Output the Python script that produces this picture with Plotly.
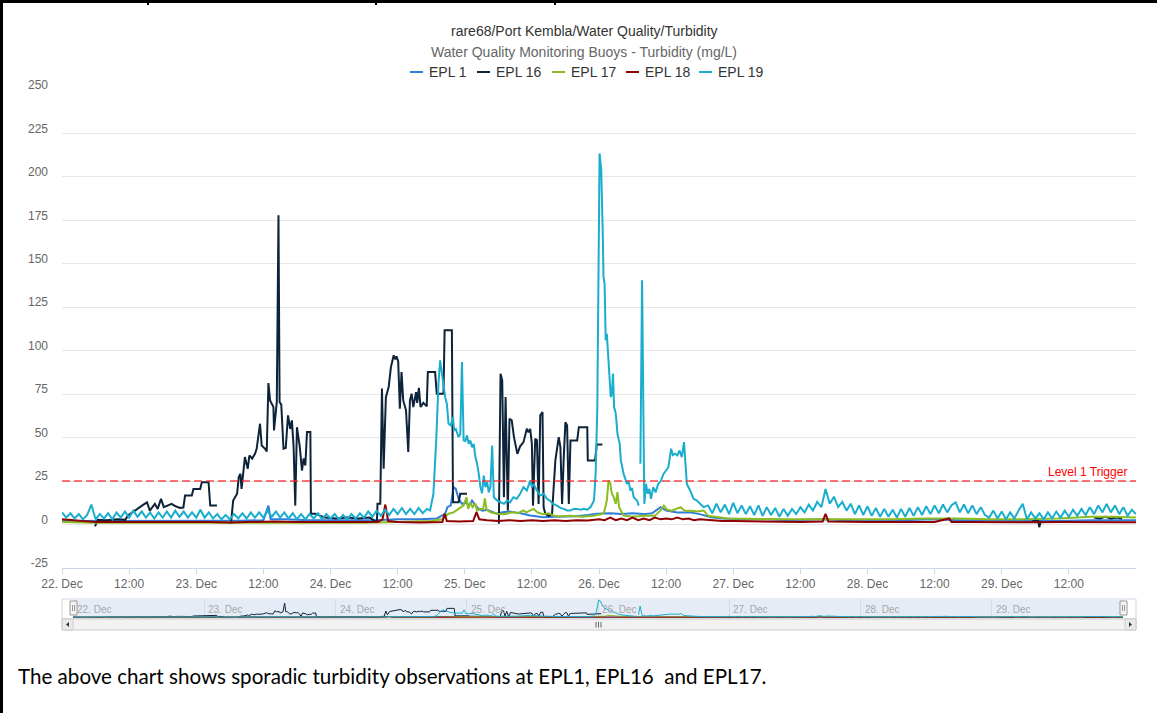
import plotly.graph_objects as go
import pandas as pd

# ---------------------------------------------------------------- data
START = pd.Timestamp("2016-12-22 00:00")
END = START + pd.Timedelta(days=8)

series_names = ["EPL 1", "EPL 16", "EPL 17", "EPL 18", "EPL 19"]
series_colors = ["#2f7ed8", "#0d233a", "#8bbc21", "#910000", "#1aadce"]
trigger_level = 25
trigger_label = "Level 1 Trigger"

# hours after 22 Dec 00:00 and turbidity (mg/L); None = no data (line break)
epl1_hours = [0, 4, 8, 12, 16, 20, 24, 28, 32, 36, 36.9, 37.3, 40, 44, 48, 52, 56, 60, 64, 67,
              68.5, 68.9, 69.5, 70.0, 70.4, 70.9, 71.5, 72.2, 72.8, 73.3, 73.9, 74.5, 75.2, 76.0,
              76.8, 77.7, 78.8, 80, 81, 82, 83.7, 86, 88, 90, 92, 94, 95.6, 98, 100, 102, 104,
              105.5, 107, 108, 110, 112.3, 114, 116, 118, 122, 126, 130, 136, 140, 144, 150, 156,
              160, 166, 172, 178, 184, 192]
epl1_vals = [2, 2, 1.8, 2, 2.2, 2, 2, 2, 2.2, 2.5, 10.9, 3, 3, 2.5, 2.5, 2.5, 2.5, 3, 3, 3.5,
             6.2, 10, 11, 21.5, 20.5, 14.8, 11.9, 12.5, 11, 13.8, 11, 9, 8, 8.5,
             7.5, 6.2, 7.1, 7.5, 7, 6.5, 5.2, 4.2, 4.5, 4.5, 4.8, 5.5, 6.2, 6.5, 6, 6.5, 6,
             6.5, 10, 8, 7, 7, 6, 4.2, 3.5, 3, 3, 2.5, 3, 2.5, 2.5, 2.5, 3,
             2.5, 2.5, 2, 2, 2.5, 2.5]

epl16_hours = [5.9, 6.4, 8, 10, 11.3, 11.8, 12.6, 13.4, 14.3, 15.2, 15.7, 16.6, 17.1, 17.7, 18.2,
               19.6, 20.3, 21.1, 21.7, 22.0, 23.2, 23.5, 24.7, 25.0, 26.2, 26.5, 27.7,
               29.0,
               30.2, 30.6, 31.3, 31.6, 31.9, 32.1, 32.7, 33.2, 33.5, 34.0, 34.5, 34.8, 35.4, 35.7,
               36.3, 36.6, 36.9, 37.2, 37.8, 37.9, 38.4, 38.7, 38.9, 39.2, 39.6, 40.0, 40.4, 40.8,
               41.1, 41.4, 41.7, 42.0, 42.5, 42.9, 43.2, 43.5, 43.8, 44.4, 44.5, 45.3, 47, 49, 51,
               53, 55, 56.3, 56.4, 56.9, 57.2, 57.5, 57.9, 58.4, 58.8, 59.3, 59.6, 59.8, 60.1, 60.4,
               60.7, 61.0, 61.5, 61.9, 62.2, 62.5, 62.8, 63.3, 63.5, 63.8, 64.1, 64.6, 65.2, 65.4,
               66.7, 67.0, 68.2, 68.4, 69.7, 69.9, 70.9, 71.2, 72.4,
               75.0,
               78.1, 78.4, 78.7, 79.0, 79.3, 79.7, 80.0, 80.4, 80.8, 81.4, 81.9, 82.5, 83.1, 83.4,
               83.7, 84.0, 84.2, 84.6, 84.9, 85.2, 85.5, 85.9, 86.1, 86.4, 87.0, 87.6, 88.2, 88.5,
               88.8, 89.1, 89.4, 89.7, 90.0, 90.3, 90.6, 90.9, 92.1, 92.4, 93.9, 94.0, 95.3, 95.6,
               96.6,
               130.0,
               173.5, 174.5, 174.7, 175.0,
               180.0,
               184.5, 185.5, 186.5, 187.5, 188.5, 189.5]
epl16_vals = [-1, 2.7, 2.5, 3, 2.7, 5.2, 7, 9, 10.9, 12.8, 8, 11.9, 9, 14.8, 10,
              11.9, 10.5, 9.6, 9.8, 16.7, 16.7, 20.5, 20.5, 24.4, 24.4, 10.9, 10.9,
              None,
              0.4, 13.8, 17.7, 27.3, 29.2, 20.5, 38.8, 32.1, 39.7, 38, 40.7, 43.6, 58, 45.5,
              43.6, 42, 81.4, 71.4, 67.6, 54.1, 70.5, 178, 70.5, 69, 43.6, 44, 62.8, 55,
              59.9, 45, 10.9, 56, 45, 31.1, 38, 34, 53.2, 53.2, 6.2, 6.2, 4, 3.5, 4,
              3.5, 4, 1.3, 11.9, 11.9, 78.2, 32.1, 73.3, 79.1, 90.6, 97.4, 95, 96.8, 94, 66.6,
              87.7, 71.4, 65.7, 41.7, 71.4, 75.3, 67.6, 76.2, 70, 78.7, 67.6, 70, 68, 87.7,
              87.7, 75.3, 75.3, 111.8, 111.8, 12.8, 12.8, 17.7, 17.7,
              None,
              0.4, 86.8, 83, 15.7, 73.3, 8.1, 60.8, 60, 50.3, 40.7, 45, 47.4, 55.1, 53,
              55, 46.4, 10.9, 49.4, 48.5, 11.9, 62.8, 64.7, 10, 6.2, 5, 6, 36.9, 44.5,
              50.3, 44.5, 11.9, 38.8, 58.9, 57, 11.9, 48.4, 48.4, 56, 56, 36.9, 36.9, 46.1,
              46.1,
              None,
              2, 2.5, -1.5, 2,
              None,
              4, 3.5, 4.5, 3.5, 4, 3.5]

epl17_hours = [0, 6, 12, 18, 24, 30, 36, 42, 48, 54, 60, 66, 68, 69.1, 70.0, 71.2, 71.8, 72.3,
               72.6, 73.0, 73.4, 73.9, 74.2, 74.8, 75.3, 75.6, 75.9, 76.6, 77.8, 79, 80.5, 81.5,
               82.5, 83, 84.3, 85, 86, 87, 88, 89, 91, 93, 95, 96.5, 96.9, 97.4, 97.7, 98.0, 98.3,
               98.6, 99.0, 99.3, 99.6, 99.9, 100.4, 102, 104, 106, 107, 107.6, 108.2, 109, 110.6,
               111.3, 112.5, 113.5, 114.7, 115.5, 117.1, 119, 122, 126, 130, 134, 138, 142, 148,
               154, 160, 166, 172, 178, 184, 188, 192]
epl17_vals = [1.5, 1, 1, 1.2, 1, 1, 1.2, 1, 1, 1, 1.5, 2, 3, 6.2, 7, 10, 11, 15.7,
              9, 12.8, 10, 12, 8, 9, 9, 15, 8.5, 7.1, 6.2, 6, 7, 6.5,
              8.1, 7, 9, 7, 6, 6.5, 5, 4.6, 5, 4.5, 5, 6, 7, 13.8, 25.3, 24, 17.7,
              16, 11.9, 18.6, 10, 8.1, 5.2, 4.5, 5, 5, 8.1, 10.9, 8.5, 8, 10,
              8, 8, 7.5, 8.1, 5, 4.2, 3.5, 3.3, 3, 3, 3, 3, 3, 3,
              3.5, 3.5, 3, 3, 3.5, 4.5, 4.5, 4]

epl18_hours = [0, 2, 4, 6, 10, 14, 18, 22, 26, 30, 34, 38, 42, 46, 50, 54, 56.5, 57.3, 57.8, 58.3,
               60, 64, 68, 68.4, 68.8, 71, 73.5, 74.1, 74.6, 76, 78, 80, 82, 84, 86, 88, 90, 92,
               94, 96, 97, 98, 99, 100, 101, 102, 103, 104, 105, 106, 107, 108, 109, 110, 111,
               112, 113, 114, 116, 118, 120, 124, 128, 132, 136, 136.5, 137, 140, 144, 148, 152,
               156, 158.6, 159, 162, 166, 170, 174, 178, 182, 186, 190, 192]
epl18_vals = [3, 2.5, 2, 1.5, 1.5, 1.5, 1.8, 1.5, 1.5, 1.2, 1.5, 1.8, 1.5, 1.5, 1.2, 1.5, 1.5, 3, 11.5, 2,
              1.5, 1.2, 1.5, 6.2, 2, 1.8, 2, 7.1, 3, 2.5, 2, 2.5, 2, 2.5, 2, 2.5, 2, 2.5,
              2.3, 3, 2.5, 4, 2.5, 3.5, 2.5, 4, 2.5, 3.5, 2.5, 4, 3, 3.5, 3, 4, 3,
              3.5, 2.5, 3, 2.3, 2, 2, 1.8, 1.8, 1.5, 1.8, 6.2, 1.8, 1.5, 1.5, 1.5, 1.5,
              1.5, 3.5, 1.5, 1.5, 1.3, 1.5, 1.3, 1.5, 1.3, 1.5, 1.3, 1.3]

# EPL 19: 45-minute readings in quiet periods, irregular readings around the events
epl19_step = 0.75
epl19_quiet1_start = 0.0
epl19_quiet1 = [7, 4, 6.5, 3.5, 6, 3, 5.5, 11.5, 3, 6, 3.5, 6.5, 3, 7, 4, 7.5, 4, 8, 4.5, 7.5,
                4, 7, 3.5, 7, 4, 7.5, 4, 8, 4.5, 7.5, 4, 7, 4, 8.5, 4, 7, 3.5, 6, 3, 5.5,
                3, 6, 3.5, 6.5, 3.5, 7, 4, 7, 4, 8, 4.5, 7.5, 4, 7, 3.5, 6.5, 3, 6, 3, 6,
                3.5, 6.5, 3, 6, 3.5, 6, 3, 5.5, 3, 6, 3.5, 6.5, 4, 7.5, 4.5, 8, 5, 8.5, 5.5, 9,
                6, 9.5, 6, 9, 6, 9.5, 6.5, 9]
epl19_event1_hours = [65.8, 66.4, 66.9, 67.3, 67.6, 67.9, 68.2, 68.5, 68.8, 69.1, 69.5, 69.9, 70.1,
                      70.4, 70.9, 71.2, 71.5, 71.8, 72.1, 72.4, 72.7, 73.0, 73.3, 73.6, 73.9, 74.2,
                      74.5, 74.8, 75.1, 75.4, 75.7, 76.0, 76.3, 76.6, 76.9, 77.2, 77.8, 78.4, 79.0,
                      79.6, 80.1, 80.7, 81.3, 81.9, 82.5, 83.1, 83.7, 84.0, 84.3, 84.9, 85.5, 86.1,
                      86.7, 87.2, 87.8, 88.5, 89.1, 89.7, 90.3, 90.9, 91.5, 92.1, 92.7, 93.3, 93.9,
                      94.5, 95.1, 95.4, 95.7, 96.1, 96.4, 96.7, 96.8, 97.0, 97.2, 97.4, 97.6, 97.9,
                      98.1, 98.3, 98.5, 98.7, 99.0, 99.3, 99.7, 99.9, 100.4, 101.0, 101.3, 101.6,
                      101.9, 102.2, 102.8, 103.1]
epl19_event1_vals = [8.1, 17.7, 48.4, 81, 94.5, 87.7, 80, 73.3, 69.5, 58, 57, 61.8, 54.1,
                     55, 50.3, 52, 93.5, 48.4, 48, 51.3, 46.4, 48.4, 44.5, 46.4, 38.8, 35,
                     29.2, 21.5, 18, 28.2, 21.5, 24.4, 18.5, 22, 45.5, 15.7, 13.8, 12.8, 11.9,
                     13.8, 12.8, 15.7, 14.8, 17.7, 21.5, 19.6, 25.3, 21.5, 23.4, 19.6, 16.7, 17.7,
                     14.8, 13.8, 11.9, 10.9, 9.6, 9, 8.1, 8.1, 9, 9, 8.5, 9, 8.5,
                     10, 13.8, 29.2, 67.6, 213.5, 203.9, 163.6, 142.5, 138.6, 106, 109.8, 100.2, 86.8,
                     73.3, 75, 86.8, 67.6, 63.8, 52.2, 46.4, 36.9, 29.2, 23.4, 25, 19.6,
                     21, 15.7, 13.8, 10.9]
epl19_event2_hours = [103.4, 103.7, 104.1, 104.4, 104.7, 105.0, 105.3, 105.7, 106.1, 106.6, 107.1,
                      107.5, 108.0, 108.4, 108.9, 109.2, 109.6, 110.0, 110.4, 110.8, 111.2, 111.7,
                      112.3, 112.9, 113.5, 114.1, 114.7]
epl19_event2_vals = [35, 140.6, 11.9, 23.4, 17.7, 20.5, 14.8, 21.5, 18.5, 23.4, 25.3,
                     29, 31.1, 33, 43.6, 40, 40.7, 39.7, 42.6, 38.8, 47.4, 23.4,
                     19.6, 14.8, 13.8, 11.9, 10]
epl19_quiet2_start = 115.5
epl19_quiet2 = [11, 6.5, 12, 7, 11.5, 6, 12.5, 6.5, 11, 6, 10.5, 5.5, 11, 5, 10, 5.5, 9.5, 4.5, 9, 5,
                9, 6, 10, 7, 11.5, 8, 13, 10, 20.5, 12, 16, 10, 13,
                8, 12, 6, 11, 5.5, 10.5, 5, 9.5, 4.5, 9, 4.5, 8.5, 4, 9, 4.5, 9.5, 5, 10,
                5.5, 10.5, 6, 11, 6.5, 11.5, 7, 11, 12.8, 7, 11.5, 6.5, 11, 6, 10, 5.5,
                4, 8, 3.5, 7.5, 3, 7, 3.5, 8, 11.9, 3, 7, 3.5, 6.5, 3, 7, 3.5,
                7.5, 4, 8, 4.5, 8.5, 5, 9, 5.5, 10, 6, 11, 7, 11.9, 7, 11, 6, 10, 5, 8.5, 6]

epl19_hours = ([epl19_quiet1_start + i * epl19_step for i in range(len(epl19_quiet1))]
               + epl19_event1_hours + [103.25] + epl19_event2_hours
               + [epl19_quiet2_start + i * epl19_step for i in range(len(epl19_quiet2))])
epl19_vals = epl19_quiet1 + epl19_event1_vals + [None] + epl19_event2_vals + epl19_quiet2

series_hours = [epl1_hours, epl16_hours, epl17_hours, epl18_hours, epl19_hours]
series_vals = [epl1_vals, epl16_vals, epl17_vals, epl18_vals, epl19_vals]
for hh, vv in zip(series_hours, series_vals):
    assert len(hh) == len(vv), (len(hh), len(vv))

x_tick_vals = [START + pd.Timedelta(hours=12 * k) for k in range(16)]
x_tick_text = [f"{22 + k // 2}. Dec" if k % 2 == 0 else "12:00" for k in range(16)]
nav_days = [START + pd.Timedelta(days=d) for d in range(8)]
nav_day_text = [f"{22 + d}. Dec" for d in range(8)]
y_ticks = list(range(-25, 251, 25))
y_tick_text = [str(v) for v in y_ticks]

title_text = "rare68/Port Kembla/Water Quality/Turbidity"
subtitle_text = "Water Quality Monitoring Buoys - Turbidity (mg/L)"
caption_text = "The above chart shows sporadic turbidity observations at EPL1, EPL16\u00a0 and EPL17."

# ---------------------------------------------------------------- layout helpers
W, H = 1157, 713
ML, MR, MT, MB = 62, 21, 90, 83
PW, PH = W - ML - MR, H - MT - MB


def fx(px):
    return (px - ML) / PW


def fy(py):
    return (H - MB - py) / PH


def to_time(hours):
    return [START + pd.Timedelta(hours=h) for h in hours]


FONT = "Liberation Sans, Arial, Helvetica, sans-serif"

fig = go.Figure()
for name, col, hh, vv in zip(series_names, series_colors, series_hours, series_vals):
    fig.add_trace(go.Scatter(x=to_time(hh), y=vv, mode="lines", name=name, connectgaps=False,
                             line=dict(color=col, width=2), xaxis="x", yaxis="y",
                             showlegend=False, hoverinfo="skip"))
for name, col, hh, vv in zip(series_names, series_colors, series_hours, series_vals):
    fig.add_trace(go.Scatter(x=to_time(hh), y=vv, mode="lines", name=name + " (navigator)",
                             connectgaps=False, line=dict(color=col, width=1),
                             xaxis="x2", yaxis="y2", showlegend=False, hoverinfo="skip"))

shapes = []
annotations = []


def rect(x0, y0, x1, y1, **kw):
    d = dict(type="rect", xref="paper", yref="paper", x0=fx(x0), x1=fx(x1), y0=fy(y1), y1=fy(y0))
    d.update(kw)
    return d


# document table borders
shapes.append(rect(0, 0, 1157, 3, fillcolor="black", line=dict(width=0)))
for sx in [147, 375, 554]:
    shapes.append(rect(sx, 0, sx + 2, 5, fillcolor="black", line=dict(width=0)))
shapes.append(rect(0, 0, 3, 713, fillcolor="black", line=dict(width=0)))

# trigger line
shapes.append(dict(type="line", xref="paper", yref="y", x0=0, x1=1, y0=trigger_level, y1=trigger_level,
                   line=dict(color="rgba(255,40,40,0.85)", width=1.5, dash="8px,4px")))
annotations.append(dict(text=trigger_label, xref="paper", yref="y", x=fx(1129), y=trigger_level,
                        xanchor="right", yanchor="bottom", yshift=0, showarrow=False,
                        font=dict(family=FONT, size=12, color="#ff0000")))

# navigator
shapes.append(rect(62, 599, 1136, 619, fillcolor="white", line=dict(color="#cfd6e1", width=1), layer="below"))
shapes.append(rect(73, 599, 1123, 619, fillcolor="#e6ecf6", line=dict(width=0), layer="below"))
for hx in [70, 1120]:
    shapes.append(rect(hx, 601, hx + 7, 615, fillcolor="#f2f2f2", line=dict(color="#999999", width=1)))
    for gx in [hx + 2.5, hx + 4.5]:
        shapes.append(dict(type="line", xref="paper", yref="paper", x0=fx(gx), x1=fx(gx),
                           y0=fy(605), y1=fy(611), line=dict(color="#999999", width=1)))
# scrollbar
shapes.append(rect(62, 619, 1136, 630, fillcolor="#f2f2f2", line=dict(color="#cccccc", width=1)))
shapes.append(rect(62, 619, 73, 630, fillcolor="#e9e9e9", line=dict(color="#cccccc", width=1)))
shapes.append(rect(1125, 619, 1136, 630, fillcolor="#e9e9e9", line=dict(color="#cccccc", width=1)))
shapes.append(dict(type="path", xref="paper", yref="paper",
                   path=f"M{fx(69)},{fy(622)} L{fx(66)},{fy(624.5)} L{fx(69)},{fy(627)} Z",
                   fillcolor="#333333", line=dict(width=0)))
shapes.append(dict(type="path", xref="paper", yref="paper",
                   path=f"M{fx(1129)},{fy(622)} L{fx(1132)},{fy(624.5)} L{fx(1129)},{fy(627)} Z",
                   fillcolor="#333333", line=dict(width=0)))
for gx in [596, 598.5, 601]:
    shapes.append(dict(type="line", xref="paper", yref="paper", x0=fx(gx), x1=fx(gx),
                       y0=fy(622), y1=fy(627.5), line=dict(color="#666666", width=1)))
for d, txt in zip(nav_days, nav_day_text):
    annotations.append(dict(text=txt, xref="x2", yref="paper", x=d, y=fy(609.5), xanchor="left",
                            yanchor="middle", xshift=2, showarrow=False,
                            font=dict(family=FONT, size=10, color="#a8a8a8")))

# titles
annotations.append(dict(text=title_text, xref="paper", yref="paper", x=fx(584), y=fy(30.5),
                        xanchor="center", yanchor="middle", showarrow=False,
                        font=dict(family=FONT, size=14, color="#333333")))
annotations.append(dict(text=subtitle_text, xref="paper", yref="paper", x=fx(584), y=fy(52),
                        xanchor="center", yanchor="middle", showarrow=False,
                        font=dict(family=FONT, size=14, color="#666666")))

# legend (drawn by hand to match the compact Highcharts legend)
legend_symbol_x = [410, 477, 552, 626, 699]
for name, col, sx in zip(series_names, series_colors, legend_symbol_x):
    shapes.append(dict(type="line", xref="paper", yref="paper", x0=fx(sx), x1=fx(sx + 13),
                       y0=fy(72), y1=fy(72), line=dict(color=col, width=2)))
    annotations.append(dict(text=name, xref="paper", yref="paper", x=fx(sx + 17), y=fy(72),
                            xanchor="left", yanchor="middle", showarrow=False,
                            font=dict(family=FONT, size=14, color="#333333")))

# caption below the chart
annotations.append(dict(text=caption_text, xref="paper", yref="paper", x=fx(16), y=fy(676),
                        xanchor="left", yanchor="middle", showarrow=False,
                        font=dict(family="Lato, Carlito, Calibri, sans-serif", size=20.6, color="#000000")))

fig.update_layout(
    width=W, height=H,
    margin=dict(l=ML, r=MR, t=MT, b=MB, pad=0),
    paper_bgcolor="white", plot_bgcolor="white",
    font=dict(family=FONT, color="#666666"),
    showlegend=False,
    hovermode=False,
    xaxis=dict(domain=[0, 1], anchor="y", range=[START, END], tickmode="array",
               tickvals=x_tick_vals, ticktext=x_tick_text, showgrid=False,
               showline=True, linecolor="#ccd6eb", linewidth=1, ticks="outside", ticklen=5,
               tickcolor="#ccd6eb", tickfont=dict(size=12, color="#666666"), automargin=False,
               zeroline=False),
    yaxis=dict(domain=[fy(568), 1], anchor="x", range=[-25, 250], tickmode="array",
               tickvals=y_ticks, ticktext=y_tick_text, showgrid=True, gridcolor="#e6e6e6",
               gridwidth=1, zeroline=False, showline=False, ticks="",
               tickfont=dict(size=12, color="#666666"),
               ticklabelstandoff=13, ticklabelshift=-5, automargin=False),
    xaxis2=dict(domain=[fx(73), fx(1123)], anchor="y2", range=[START, END], tickmode="array",
                tickvals=nav_days, showticklabels=False, showgrid=True, gridcolor="#d5dbe5",
                showline=False, ticks="", zeroline=False, automargin=False),
    yaxis2=dict(domain=[fy(619), fy(599)], anchor="x2", range=[-20.7, 228.5], visible=False,
                showgrid=False, zeroline=False),
    shapes=shapes,
    annotations=annotations,
)

fig.write_html("out.html", config={"displayModeBar": False},
               post_script="document.body.style.margin='0';document.body.style.overflow='hidden';")
